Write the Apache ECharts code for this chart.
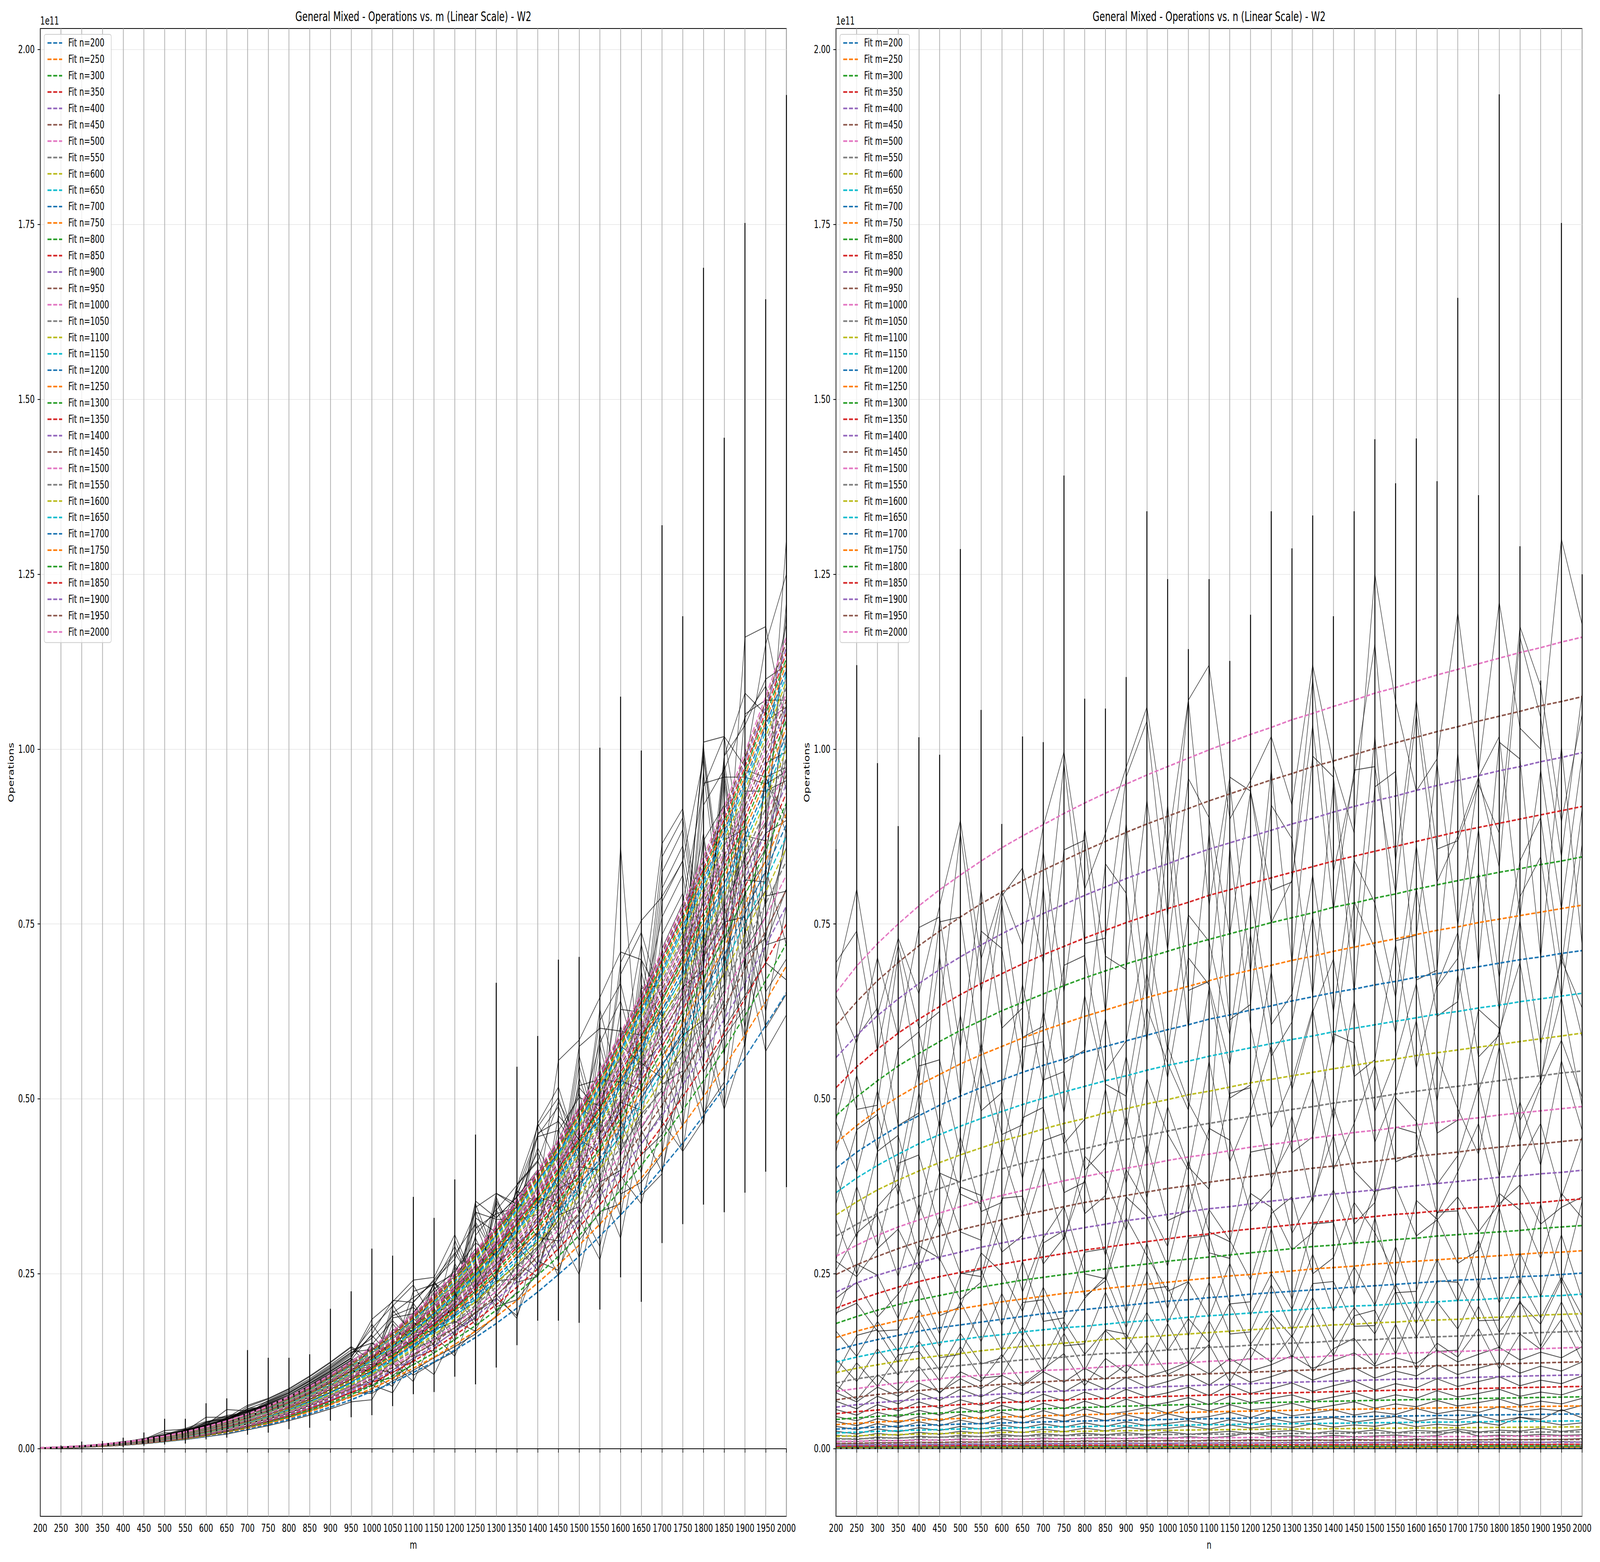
<!DOCTYPE html>
<html>
<head>
<meta charset="utf-8">
<title>General Mixed - Operations W2</title>
<script src="https://cdn.jsdelivr.net/npm/echarts@6/dist/echarts.min.js"></script>
<style>
  html, body { margin: 0; padding: 0; background: #fff; overflow: hidden; }
  #chart { width: 6000px; height: 4000px; transform-origin: 0 0; }
</style>
</head>
<body>
<div id="chart"></div>
<script>
// grid sizes (x values of both panels)
const mValues = [200,250,300,350,400,450,500,550,600,650,700,750,800,850,900,950,1000,1050,1100,1150,1200,1250,1300,1350,1400,1450,1500,1550,1600,1650,1700,1750,1800,1850,1900,1950,2000];
const nValues = [200,250,300,350,400,450,500,550,600,650,700,750,800,850,900,950,1000,1050,1100,1150,1200,1250,1300,1350,1400,1450,1500,1550,1600,1650,1700,1750,1800,1850,1900,1950,2000];
// y ticks, unit 1e9 (labels shown as x1e11)
const yTickValues = [0,25,50,75,100,125,150,175,200];

// fitted operations, rows = m, columns = n, unit 1e9
const fitOps = [
  [0.07,0.07,0.07,0.08,0.08,0.08,0.08,0.08,0.09,0.09,0.09,0.09,0.09,0.09,0.1,0.1,0.1,0.1,0.1,0.1,0.1,0.1,0.1,0.11,0.11,0.11,0.11,0.11,0.11,0.11,0.11,0.11,0.11,0.11,0.11,0.12,0.12],
  [0.13,0.13,0.14,0.15,0.15,0.16,0.16,0.16,0.17,0.17,0.17,0.18,0.18,0.18,0.19,0.19,0.19,0.19,0.2,0.2,0.2,0.2,0.2,0.21,0.21,0.21,0.21,0.21,0.21,0.22,0.22,0.22,0.22,0.22,0.22,0.23,0.23],
  [0.22,0.23,0.24,0.25,0.26,0.27,0.28,0.28,0.29,0.3,0.3,0.31,0.31,0.32,0.32,0.33,0.33,0.33,0.34,0.34,0.35,0.35,0.35,0.36,0.36,0.36,0.36,0.37,0.37,0.37,0.38,0.38,0.38,0.38,0.39,0.39,0.39],
  [0.35,0.37,0.39,0.4,0.42,0.43,0.44,0.45,0.46,0.47,0.48,0.49,0.49,0.5,0.51,0.52,0.52,0.53,0.54,0.54,0.55,0.55,0.56,0.56,0.57,0.57,0.58,0.58,0.59,0.59,0.6,0.6,0.61,0.61,0.61,0.62,0.62],
  [0.52,0.55,0.58,0.6,0.62,0.64,0.66,0.67,0.69,0.7,0.71,0.73,0.74,0.75,0.76,0.77,0.78,0.79,0.8,0.81,0.82,0.83,0.83,0.84,0.85,0.86,0.86,0.87,0.88,0.88,0.89,0.9,0.9,0.91,0.92,0.92,0.93],
  [0.74,0.79,0.82,0.85,0.88,0.91,0.93,0.96,0.98,1,1.02,1.03,1.05,1.07,1.08,1.1,1.11,1.12,1.14,1.15,1.16,1.17,1.19,1.2,1.21,1.22,1.23,1.24,1.25,1.26,1.27,1.28,1.29,1.3,1.3,1.31,1.32],
  [1.02,1.08,1.13,1.17,1.21,1.25,1.28,1.31,1.34,1.37,1.39,1.42,1.44,1.46,1.48,1.5,1.52,1.54,1.56,1.58,1.6,1.61,1.63,1.64,1.66,1.67,1.69,1.7,1.71,1.73,1.74,1.75,1.77,1.78,1.79,1.8,1.81],
  [1.36,1.43,1.5,1.56,1.61,1.66,1.71,1.75,1.79,1.82,1.86,1.89,1.92,1.95,1.98,2,2.03,2.05,2.08,2.1,2.12,2.15,2.17,2.19,2.21,2.23,2.25,2.26,2.28,2.3,2.32,2.33,2.35,2.37,2.38,2.4,2.41],
  [1.76,1.86,1.95,2.03,2.09,2.16,2.22,2.27,2.32,2.37,2.41,2.45,2.49,2.53,2.57,2.6,2.63,2.67,2.7,2.73,2.76,2.79,2.81,2.84,2.87,2.89,2.92,2.94,2.96,2.99,3.01,3.03,3.05,3.07,3.09,3.11,3.13],
  [2.24,2.37,2.48,2.58,2.66,2.74,2.82,2.88,2.95,3.01,3.06,3.12,3.17,3.22,3.26,3.31,3.35,3.39,3.43,3.47,3.5,3.54,3.58,3.61,3.64,3.67,3.71,3.74,3.77,3.8,3.82,3.85,3.88,3.9,3.93,3.96,3.98],
  [2.8,2.96,3.1,3.22,3.33,3.43,3.52,3.6,3.68,3.76,3.83,3.89,3.96,4.02,4.07,4.13,4.18,4.23,4.28,4.33,4.38,4.42,4.47,4.51,4.55,4.59,4.63,4.67,4.7,4.74,4.78,4.81,4.84,4.88,4.91,4.94,4.97],
  [3.44,3.64,3.81,3.96,4.09,4.21,4.33,4.43,4.53,4.62,4.71,4.79,4.87,4.94,5.01,5.08,5.14,5.21,5.27,5.33,5.38,5.44,5.49,5.55,5.6,5.65,5.69,5.74,5.79,5.83,5.87,5.92,5.96,6,6.04,6.08,6.12],
  [4.18,4.41,4.62,4.8,4.96,5.11,5.25,5.38,5.49,5.61,5.71,5.81,5.9,5.99,6.08,6.16,6.24,6.32,6.39,6.47,6.53,6.6,6.67,6.73,6.79,6.85,6.91,6.97,7.02,7.08,7.13,7.18,7.23,7.28,7.33,7.38,7.42],
  [5.01,5.3,5.54,5.76,5.96,6.13,6.3,6.45,6.59,6.72,6.85,6.97,7.08,7.19,7.29,7.39,7.49,7.58,7.67,7.75,7.84,7.92,8,8.07,8.15,8.22,8.29,8.36,8.42,8.49,8.55,8.61,8.67,8.73,8.79,8.85,8.9],
  [5.94,6.29,6.58,6.84,7.07,7.28,7.47,7.66,7.82,7.98,8.13,8.27,8.41,8.54,8.66,8.78,8.89,9,9.1,9.21,9.3,9.4,9.49,9.58,9.67,9.75,9.84,9.92,10,10.08,10.15,10.22,10.3,10.37,10.44,10.5,10.57],
  [6.99,7.39,7.74,8.04,8.31,8.56,8.79,9,9.2,9.39,9.56,9.73,9.89,10.04,10.18,10.32,10.45,10.58,10.71,10.83,10.94,11.05,11.16,11.27,11.37,11.47,11.57,11.67,11.76,11.85,11.94,12.02,12.11,12.19,12.27,12.35,12.43],
  [8.2,8.6,9,9.4,9.7,10,10.3,10.5,10.7,10.9,11.2,11.3,11.5,11.7,11.9,12,12.2,12.3,12.5,12.6,12.8,12.9,13,13.1,13.3,13.4,13.5,13.6,13.7,13.8,13.9,14,14.1,14.2,14.3,14.4,14.5],
  [9.4,10,10.4,10.9,11.2,11.6,11.9,12.2,12.4,12.7,12.9,13.1,13.4,13.6,13.7,13.9,14.1,14.3,14.5,14.6,14.8,14.9,15.1,15.2,15.4,15.5,15.6,15.8,15.9,16,16.1,16.2,16.4,16.5,16.6,16.7,16.8],
  [10.9,11.5,12,12.5,12.9,13.3,13.6,14,14.3,14.6,14.8,15.1,15.3,15.6,15.8,16,16.2,16.4,16.6,16.8,17,17.2,17.3,17.5,17.7,17.8,18,18.1,18.3,18.4,18.5,18.7,18.8,18.9,19.1,19.2,19.3],
  [12.4,13.1,13.7,14.3,14.7,15.2,15.6,16,16.3,16.7,17,17.3,17.5,17.8,18.1,18.3,18.5,18.8,19,19.2,19.4,19.6,19.8,20,20.2,20.4,20.5,20.7,20.9,21,21.2,21.3,21.5,21.6,21.8,21.9,22.1],
  [14.1,14.9,15.6,16.2,16.8,17.3,17.7,18.1,18.5,18.9,19.3,19.6,19.9,20.2,20.5,20.8,21.1,21.3,21.6,21.8,22.1,22.3,22.5,22.7,22.9,23.1,23.3,23.5,23.7,23.9,24.1,24.2,24.4,24.6,24.7,24.9,25.1],
  [15.9,16.8,17.6,18.3,18.9,19.5,20,20.5,21,21.4,21.8,22.2,22.5,22.9,23.2,23.5,23.8,24.1,24.4,24.7,24.9,25.2,25.4,25.7,25.9,26.1,26.4,26.6,26.8,27,27.2,27.4,27.6,27.8,28,28.1,28.3],
  [17.9,18.9,19.8,20.6,21.3,21.9,22.5,23.1,23.6,24.1,24.5,24.9,25.3,25.7,26.1,26.4,26.8,27.1,27.4,27.7,28,28.3,28.6,28.9,29.1,29.4,29.6,29.9,30.1,30.4,30.6,30.8,31,31.2,31.5,31.7,31.9],
  [20.1,21.2,22.2,23.1,23.9,24.6,25.2,25.8,26.4,26.9,27.4,27.9,28.4,28.8,29.2,29.6,30,30.4,30.7,31.1,31.4,31.7,32,32.3,32.6,32.9,33.2,33.5,33.7,34,34.3,34.5,34.7,35,35.2,35.5,35.7],
  [22.4,23.7,24.8,25.7,26.6,27.4,28.1,28.8,29.4,30,30.6,31.1,31.6,32.1,32.6,33,33.5,33.9,34.3,34.6,35,35.4,35.7,36.1,36.4,36.7,37,37.3,37.6,37.9,38.2,38.5,38.8,39,39.3,39.5,39.8],
  [24.9,26.3,27.5,28.6,29.6,30.4,31.3,32,32.7,33.4,34,34.6,35.2,35.7,36.2,36.7,37.2,37.6,38.1,38.5,38.9,39.3,39.7,40.1,40.4,40.8,41.1,41.5,41.8,42.1,42.4,42.8,43.1,43.4,43.6,43.9,44.2],
  [27.5,29.1,30.5,31.7,32.7,33.7,34.6,35.4,36.2,36.9,37.6,38.3,38.9,39.5,40.1,40.6,41.2,41.7,42.1,42.6,43.1,43.5,43.9,44.4,44.8,45.2,45.5,45.9,46.3,46.6,47,47.3,47.7,48,48.3,48.6,48.9],
  [30.4,32.1,33.6,34.9,36.1,37.2,38.2,39.1,40,40.8,41.5,42.3,42.9,43.6,44.2,44.8,45.4,46,46.5,47,47.5,48,48.5,48.9,49.4,49.8,50.2,50.7,51.1,51.5,51.8,52.2,52.6,53,53.3,53.7,54],
  [33.4,35.3,37,38.4,39.7,40.9,42,43,44,44.8,45.7,46.5,47.2,48,48.6,49.3,49.9,50.6,51.1,51.7,52.3,52.8,53.3,53.8,54.3,54.8,55.3,55.7,56.2,56.6,57,57.4,57.8,58.2,58.6,59,59.4],
  [36.6,38.7,40.5,42.1,43.6,44.9,46.1,47.2,48.2,49.2,50.1,51,51.8,52.6,53.3,54.1,54.8,55.4,56.1,56.7,57.3,57.9,58.5,59,59.6,60.1,60.6,61.1,61.6,62.1,62.5,63,63.4,63.9,64.3,64.7,65.1],
  [40.1,42.4,44.3,46.1,47.6,49.1,50.4,51.6,52.7,53.8,54.8,55.7,56.7,57.5,58.3,59.1,59.9,60.6,61.4,62,62.7,63.3,64,64.6,65.2,65.7,66.3,66.8,67.4,67.9,68.4,68.9,69.4,69.9,70.3,70.8,71.2],
  [43.7,46.2,48.4,50.3,52,53.5,55,56.3,57.5,58.7,59.8,60.8,61.8,62.7,63.6,64.5,65.3,66.1,66.9,67.7,68.4,69.1,69.8,70.4,71.1,71.7,72.3,72.9,73.5,74.1,74.6,75.2,75.7,76.2,76.7,77.2,77.7],
  [47.6,50.3,52.6,54.7,56.5,58.2,59.8,61.2,62.6,63.8,65,66.2,67.3,68.3,69.3,70.2,71.1,72,72.8,73.6,74.4,75.2,75.9,76.6,77.4,78,78.7,79.3,80,80.6,81.2,81.8,82.4,82.9,83.5,84,84.6],
  [51.6,54.6,57.1,59.4,61.4,63.2,64.9,66.5,67.9,69.3,70.6,71.8,73,74.1,75.2,76.2,77.2,78.1,79.1,79.9,80.8,81.6,82.4,83.2,84,84.7,85.4,86.1,86.8,87.5,88.2,88.8,89.4,90,90.6,91.2,91.8],
  [55.9,59.1,61.9,64.3,66.5,68.5,70.3,72,73.6,75.1,76.5,77.8,79.1,80.3,81.5,82.6,83.6,84.7,85.7,86.6,87.5,88.4,89.3,90.1,91,91.8,92.6,93.3,94.1,94.8,95.5,96.2,96.9,97.5,98.2,98.8,99.5],
  [60.5,63.9,66.9,69.5,71.9,74,76,77.9,79.6,81.2,82.7,84.1,85.5,86.8,88.1,89.3,90.4,91.5,92.6,93.6,94.6,95.6,96.5,97.5,98.3,99.2,100.1,100.9,101.7,102.5,103.2,104,104.7,105.4,106.2,106.8,107.5],
  [65.2,69,72.2,75,77.6,79.9,82,84,85.9,87.6,89.2,90.8,92.3,93.7,95,96.3,97.5,98.7,99.9,101,102.1,103.1,104.2,105.1,106.1,107,108,108.8,109.7,110.6,111.4,112.2,113,113.8,114.5,115.3,116]
];

// measured operations, rows = m, columns = n, unit 1e9
const rawOps = [
  [0.07,0.08,0.07,0.09,0.08,0.09,0.08,0.1,0.09,0.1,0.08,0.1,0.1,0.09,0.11,0.1,0.1,0.12,0.1,0.11,0.09,0.12,0.11,0.1,0.12,0.1,0.11,0.13,0.1,0.12,0.11,0.1,0.13,0.12,0.1,0.13,0.12],
  [0.14,0.12,0.16,0.14,0.17,0.15,0.18,0.15,0.19,0.16,0.2,0.17,0.16,0.2,0.18,0.21,0.17,0.2,0.22,0.18,0.21,0.2,0.23,0.19,0.22,0.24,0.2,0.22,0.19,0.25,0.21,0.23,0.26,0.2,0.24,0.22,0.25],
  [0.24,0.21,0.27,0.23,0.29,0.25,0.31,0.26,0.27,0.33,0.28,0.34,0.29,0.3,0.36,0.31,0.29,0.37,0.32,0.35,0.38,0.33,0.36,0.31,0.4,0.34,0.38,0.35,0.42,0.36,0.39,0.34,0.43,0.37,0.41,0.36,0.42],
  [0.38,0.34,0.43,0.37,0.45,0.41,0.48,0.42,0.5,0.44,0.53,0.46,0.51,0.49,0.56,0.47,0.58,0.5,0.55,0.6,0.52,0.57,0.62,0.53,0.6,0.55,0.64,0.56,0.61,0.66,0.58,0.63,0.57,0.67,0.6,0.65,0.64],
  [0.58,0.5,0.63,0.56,0.68,0.6,0.72,0.64,0.75,0.67,0.78,0.7,0.8,0.73,0.83,0.76,0.74,0.86,0.78,0.9,0.8,0.85,0.92,0.81,0.95,0.84,0.9,0.98,0.86,0.94,0.88,1,0.92,0.96,0.89,1.02,0.95],
  [0.8,0.72,0.9,0.85,0.96,0.86,1.02,0.93,1.08,0.97,1.12,1,1.15,1.05,1.18,1.1,1.22,1.06,1.25,1.14,1.3,1.17,1.24,1.33,1.19,1.36,1.26,1.21,1.4,1.28,1.35,1.24,1.44,1.3,1.38,1.34,1.45],
  [1.1,1,1.25,1.12,1.35,1.2,1.42,1.26,1.5,1.33,1.56,1.38,1.52,1.6,1.43,1.68,1.5,1.72,1.55,1.78,2.3,1.7,1.85,1.66,1.9,1.72,1.82,1.96,1.75,1.88,2.6,1.8,1.95,1.86,2.05,1.9,2],
  [1.5,1.3,1.68,1.45,1.8,1.6,1.95,1.7,2.05,1.78,2.15,1.9,2.22,2,2.3,2.05,2.4,2.1,2.25,2.5,2.15,2.42,2.6,2.2,2.55,2.35,2.7,2.3,2.62,2.45,2.8,2.4,2.66,2.52,2.9,2.48,2.75],
  [1.95,1.7,2.2,1.9,2.35,2.05,2.5,2.2,2.68,2.3,2.8,2.45,2.95,2.55,3.1,2.7,2.9,3.25,2.8,3.4,2.95,3.3,3.05,3.55,3.1,3.4,3.2,3.7,3.15,3.5,3.3,3.8,3.35,4.5,3.9,3.4,3.7],
  [2.5,2.1,2.85,2.4,3,2.6,3.2,2.8,3.4,2.95,3.55,3.1,3.7,3.2,3.85,3.3,3.6,4,3.45,4.15,3.6,4.3,3.75,4.05,4.45,3.8,4.2,4.6,3.9,4.35,4.1,4.75,4,4.5,4.2,5.6,4.4],
  [3.2,2.7,3.6,3,3.85,3.25,4.1,3.5,4.3,3.65,4.5,3.9,4.7,4,4.85,4.15,5,4.3,4.6,5.2,4.45,5.4,4.7,5.1,5.55,4.8,5.3,4.9,5.75,5,5.5,5.2,6,5.3,5.7,5.4,6.2],
  [3.9,3.3,4.3,3.7,4.6,3.95,4.9,4.2,5.2,4.4,5.45,4.6,5.7,4.9,5.3,5.9,5.1,6.1,5.4,6.3,5.55,5.9,6.5,5.7,6.2,6.7,5.8,6.4,6,6.9,6.1,6.6,7.1,6.2,6.8,6.4,7.2],
  [4.6,4,5.2,4.5,5.5,4.8,5.9,5.1,6.2,5.4,6.5,5.7,6.8,5.9,7.1,6.1,6.6,7.3,6.3,7.5,6.6,7.2,7.7,6.8,7.4,8,7,7.7,7.2,8.3,7.4,7.9,8.5,7.5,8.1,7.7,8.6],
  [5.6,4.8,6.3,5.4,6.7,5.8,7,6.2,7.4,6.5,7.8,6.8,8.1,7.1,8.5,7.4,8,8.8,7.6,9.1,7.9,8.6,9.4,8.2,9,9.7,8.4,9.3,8.7,10,8.9,9.6,10.3,9,9.8,9.3,10.4],
  [6.8,5.7,7.5,6.4,8,6.9,8.5,7.4,9,7.7,9.4,8.1,9.8,8.5,10.2,8.8,9.6,10.6,9.1,11,9.5,10.3,11.3,9.8,10.8,11.6,10.1,11.1,10.4,12,10.6,11.5,12.3,10.8,11.8,11.1,12.4],
  [8,6.7,8.8,7.5,9.4,8.1,10,8.6,10.5,9,11,9.5,11.5,9.9,12,10.3,11.2,12.4,10.7,12.9,11.1,12,13.3,11.5,12.6,13.7,11.8,13,12.2,14.1,12.4,13.5,14.5,12.7,13.8,13,14.6],
  [9.1,7,10.6,8.3,11.8,7.9,11,9.6,13.5,9.2,11.4,13.6,9,12.9,10.8,15.2,10.6,12,14.9,9.6,14.5,12.4,16.2,11,14.3,15.8,12,17.8,11.3,15.1,13.1,17.2,11.4,16.4,14.2,18.5,12.6],
  [8,12.3,8.9,13.4,13.9,9.7,14.6,10.1,10.4,15.8,10.9,16.5,11.2,17,16.4,11.8,17.9,12.2,18.3,12.5,12.9,18.7,13,19.4,13.3,19,19.8,13.5,20.6,13.9,14.1,20.4,14.3,21.2,14.6,21,15],
  [12.8,9.6,14.3,10.5,15.4,11.2,16.5,12.1,13,17.4,12.6,18.2,13.5,16.9,14.1,19.5,14,18.6,15.2,20.8,14.9,19.3,16,21.6,15.5,20.2,16.4,22.5,15.9,21,17.1,23.4,16.6,20.9,17.8,24.1,17],
  [10.6,16.2,17,12.3,18.4,13,13.5,20.1,14.1,20.9,21.3,14.7,15,22.4,15.6,22.8,23.2,16.1,23.8,16.4,16.7,23.4,17,23.6,23.9,17.5,17.6,23.5,17.9,24,23.8,18.3,18.4,24.2,18.7,24.5,19],
  [16.8,13.2,18.2,13.9,19.9,14.6,21,15.3,22.2,16.1,23.1,16.8,21.5,24.6,17.3,25.4,18,23.9,18.8,26.5,19.1,25,19.9,27.8,19.6,26,20.5,28.9,20.2,27.1,21,29.8,20.8,28,21.7,30.6,21.4],
  [19.4,20.8,16.8,17,23.4,16.4,25,25.6,17.6,26.8,18.2,18.7,28.1,28.6,19.5,29.4,20,30.1,30.5,20.7,21,31.5,21.3,32.1,32.4,21.9,33,22.3,22.5,33.8,34,23,34.5,23.3,35,23.6,35.4],
  [21.5,23.8,18.8,22.1,26.5,19,20.3,28,25.2,19.6,29.4,31.2,21.8,24,33,27.6,22.5,23.9,34.2,29.8,24.1,33.6,36,25,27.3,35.2,30.9,24.7,35.5,32.8,26.5,28.4,36.5,34.1,27.2,36.5,33],
  [19,26.4,24.8,18.6,29,27.2,21.3,23.8,32.5,22.4,30.1,34.6,25,24.3,36,33.2,26.1,37.8,28,27.2,36.5,34.5,28.4,30.9,37,29.1,36.8,37.5,30.4,32.7,36,31,35,37.7,32.1,34.5,36],
  [26.8,24.6,28.6,31.4,25.5,33.2,25.1,24.6,35.8,36.1,26.4,30.2,38.5,27.6,39.9,34.8,28.9,41.2,31,29.6,42.4,43,30.8,36,44.8,32.1,35.2,46,45.1,33.5,39.6,46.5,34.4,41,46.5,35.9,44.6],
  [25.5,30.8,33.4,24.6,35,26.8,37.4,36.2,28.1,30.5,40.2,29.7,41.8,38.6,31.2,43.5,32.6,34,45.8,44.1,33.9,37.2,47.6,35.1,48.9,39.7,36.6,50.2,46.8,37.8,41.9,51.7,38.9,49.6,40.5,55.5,45.5],
  [32.8,24.9,34.6,37.9,27.4,39.5,31,29.8,42.6,33.4,44,45.1,33.6,36.2,47.5,35.8,48.9,40.3,37.1,50.8,51.6,38.6,44.2,53,39.9,46.5,54.8,41,42.3,56.2,48.6,42.1,57.5,44,51.9,58.4,50.2],
  [27,37.5,28.9,40.8,42,31.5,44.6,33.9,35.2,47.3,48.8,36.6,38.1,51.4,37.9,52.9,45,39.8,55.4,41,48.2,57.6,42.3,44.6,59.3,58,43.8,51,61.2,45.1,47,62.8,60.1,46.9,52.8,64.5,49],
  [39,30.1,42.5,44.8,33.2,47,36.4,35,50.2,38.6,52.7,53.9,39.8,43,56.1,41.9,57.6,49.5,44,86,60.4,45.8,52.6,62.8,47,64,48.2,55.9,66.5,49.6,67.8,51.1,59.7,69.5,52.4,71,58.8],
  [35,45.6,47.8,36.2,50.9,39.4,38.1,54.6,42,57.4,58.2,43.6,47.1,61.5,45.8,63,55.1,48.4,65.8,50.1,52,68.2,51.3,62.4,70,53.2,55.6,72.1,54.4,66.3,73.8,56,59.1,75.5,57.8,69.9,63],
  [46.8,39.5,51.2,39.3,54.7,55.6,42.1,58,44.9,46.3,62.5,48,64.8,52.1,50.4,68,53,70.2,66.3,54.8,73.5,56.1,61,76,57.6,78.2,71.5,59.4,80.1,61.8,63.9,82.4,62.7,78.9,84.6,64.4,86.5],
  [42.5,53.4,42.6,57.1,59.6,45.9,62,48.3,50.9,66.4,52.2,69.1,70.5,54,58.3,74,56.9,76.3,72.5,59.1,79.4,60.6,65,82,62.4,84.1,78,64.5,86.2,66,70.1,88.5,67.3,84,90.2,69,91.5],
  [47,58.8,63,46.2,48,70.4,50.3,74,71.5,53.8,80.2,55.1,57,83.6,79.4,58.2,86.9,60.1,88,61.3,63.5,92,87.2,64.8,95.1,65.2,94.6,96.8,67,68.4,99.5,69.3,101,98.6,70.2,100.3,72],
  [60.2,48.5,49.1,70.6,52.4,75.3,76,56.2,78,58.8,60.4,85.6,87,62.3,89.4,64.1,92,65.5,66.8,95.2,68,97.1,69.4,99,96,71.5,101.8,72.6,73.4,98,74.8,96,101.8,76,97,77.1,99],
  [64.8,58,70.2,59,74.5,76,57.3,79.9,60.1,63,85.4,65.2,88.6,70.4,68.5,92.7,71.3,95.8,90.2,73.4,94,75.2,81.3,103.4,77,97,97.5,79.4,105,81,87.6,96,83.1,116,104.5,84.6,108],
  [69.5,74,56.8,72,60.1,62.5,88,65.3,79,83,69.4,98,72.2,73,96,104,76.1,107,77.6,96,94,79.8,81,110,82.5,96,115,84,107,85.7,86.9,95,88,117.5,109,89.6,105],
  [67,80,62,73,65,77.6,89.8,70,79.7,72,89,99.6,80,87.9,97.4,106,86,107,112,90,95.5,101.8,92,112,97.7,88,125,106.7,94,98.6,119.5,96.8,121,103,100,130,117.8]
];

// error bar extent at each x, unit 1e9
const errLowByM = [0,0,0,0.1,0.19,0.41,0.6,0.74,1.34,1.58,2,2.3,2.8,3,4,4.5,4.8,6.1,7.8,8.1,10.3,9.2,11.6,14.8,18.3,18.3,18,19.9,24.5,21,29.4,32.1,34.9,33.8,36.6,39.6,37.4];
const errHighByM = [0.2,0.47,1.02,1.1,1.58,2.32,4.28,4.28,6.5,7.2,14.1,13,13,13.5,20,22.5,28.6,27.6,36,33,38.5,44.9,66.6,54.6,59,69.9,70.3,100.2,107.5,99.8,132,119,168.8,144.5,175.2,164.3,193.5];
const errLowByN = [0,0,0,0,0,0,0,0,0,0,0,0,0,0,0,0,0,0,0,0,0,0,0,0,0,0,0,0,0,0,0,0,0,0,0,0,0];
const errHighByN = [85.7,112,98,89,101.7,99.2,128.6,105.6,89.3,101.8,101,139.1,107.2,105.8,110.3,134,124.3,114.3,124.3,112.6,119.2,134,128.7,133.4,119,134,144.3,138,144.4,138.3,164.5,136.3,193.6,129,109.8,175.2,125];

const tab10 = ['#1f77b4','#ff7f0e','#2ca02c','#d62728','#9467bd','#8c564b','#e377c2','#7f7f7f','#bcbd22','#17becf'];

// sanity check on the tables
[['fitOps', fitOps], ['rawOps', rawOps]].forEach(([name, tbl]) => {
  if (tbl.length !== mValues.length) throw new Error(name + ' rows ' + tbl.length);
  tbl.forEach((row, i) => { if (row.length !== nValues.length) throw new Error(name + ' row ' + i + ' len ' + row.length); });
});

// figure is laid out at 6000x4000 and scaled to whatever window we get
const FIG_W = 6000, FIG_H = 4000;
const chartEl = document.getElementById('chart');
const sx = (window.innerWidth || FIG_W) / FIG_W;
const sy = (window.innerHeight || FIG_H) / FIG_H;
chartEl.style.transform = 'scale(' + sx + ',' + sy + ')';

const FONT = 'DejaVu Sans';
const FS = 27.8;
const GRID_TOP = 73, GRID_H = 3810, GRID_W = 2798;
const LEFT_X = 151, RIGHT_X = 3135;

function errorBars(params, api) {
  const p1 = api.coord([api.value(0), api.value(1)]);
  const p2 = api.coord([api.value(0), api.value(2)]);
  return {
    type: 'line',
    shape: { x1: p1[0], y1: p1[1], x2: p2[0], y2: p2[1] },
    style: { stroke: '#000', lineWidth: 3.5 }
  };
}

const series = [];
// left: operations vs m, one line per n
nValues.forEach((n, ni) => {
  series.push({
    type: 'line', xAxisIndex: 0, yAxisIndex: 0, name: 'data n=' + n,
    data: mValues.map((m, mi) => [m, rawOps[mi][ni]]),
    symbol: 'none', silent: true, z: 2,
    lineStyle: { color: 'rgba(0,0,0,0.7)', width: 2.2 }
  });
});
nValues.forEach((n, ni) => {
  const c = tab10[ni % 10];
  series.push({
    type: 'line', xAxisIndex: 0, yAxisIndex: 0, name: 'Fit n=' + n,
    data: mValues.map((m, mi) => [m, fitOps[mi][ni]]),
    symbol: 'none', silent: true, z: 3,
    itemStyle: { color: c },
    lineStyle: { color: c, width: 4, type: [15, 6.5] }
  });
});
series.push({
  type: 'custom', xAxisIndex: 0, yAxisIndex: 0, name: 'err m',
  renderItem: errorBars, silent: true, z: 4,
  encode: { x: 0, y: [1, 2] },
  data: mValues.map((m, mi) => [m, errLowByM[mi], errHighByM[mi]])
});

// right: operations vs n, one line per m
mValues.forEach((m, mi) => {
  series.push({
    type: 'line', xAxisIndex: 1, yAxisIndex: 1, name: 'data m=' + m,
    data: nValues.map((n, ni) => [n, rawOps[mi][ni]]),
    symbol: 'none', silent: true, z: 2,
    lineStyle: { color: 'rgba(0,0,0,0.7)', width: 2.2 }
  });
});
mValues.forEach((m, mi) => {
  const c = tab10[mi % 10];
  series.push({
    type: 'line', xAxisIndex: 1, yAxisIndex: 1, name: 'Fit m=' + m,
    data: nValues.map((n, ni) => [n, fitOps[mi][ni]]),
    symbol: 'none', silent: true, z: 3,
    itemStyle: { color: c },
    lineStyle: { color: c, width: 4, type: [15, 6.5] }
  });
});
series.push({
  type: 'custom', xAxisIndex: 1, yAxisIndex: 1, name: 'err n',
  renderItem: errorBars, silent: true, z: 4,
  encode: { x: 0, y: [1, 2] },
  data: nValues.map((n, ni) => [n, errLowByN[ni], errHighByN[ni]])
});

function xAxisFor(idx, label) {
  return {
    gridIndex: idx, type: 'value', min: 200, max: 2000, interval: 50,
    name: label, nameLocation: 'middle', nameGap: 60,
    nameTextStyle: { fontFamily: FONT, fontSize: FS, color: '#000' },
    axisLine: { lineStyle: { color: '#000', width: 2 } },
    axisTick: { length: 10, lineStyle: { color: '#000', width: 2 } },
    axisLabel: { fontFamily: FONT, fontSize: FS, color: '#000', margin: 17, showMinLabel: true, showMaxLabel: true, formatter: v => String(v) },
    splitLine: { show: true, lineStyle: { color: '#b0b0b0', width: 2.8 } }
  };
}
function yAxisFor(idx) {
  return {
    gridIndex: idx, type: 'value', min: -9.66, max: 203.0,
    name: 'Operations', nameLocation: 'middle', nameGap: 95, nameRotate: 90,
    nameTextStyle: { fontFamily: FONT, fontSize: FS, color: '#000' },
    axisLine: { show: true, lineStyle: { color: '#000', width: 2 } },
    axisTick: { show: true, length: 10, customValues: yTickValues, lineStyle: { color: '#000', width: 2 } },
    axisLabel: {
      fontFamily: FONT, fontSize: FS, color: '#000', margin: 21,
      customValues: yTickValues,
      formatter: v => (v / 100).toFixed(2)
    },
    splitLine: { show: true, lineStyle: { color: '#ebebeb', width: 2 } }
  };
}
function legendFor(left, prefix, values) {
  return {
    orient: 'vertical', left: left, top: 88,
    data: values.map(v => prefix + v),
    selectedMode: false,
    itemWidth: 55, itemHeight: 14, itemGap: 13.9,
    itemStyle: { opacity: 0 },
    lineStyle: { width: 4.2, type: [15, 6.5] },
    padding: [8, 8, 13, 10],
    backgroundColor: 'rgba(255,255,255,0.8)',
    borderColor: '#cccccc', borderWidth: 2, borderRadius: 6,
    textStyle: { fontFamily: FONT, fontSize: FS, color: '#000', lineHeight: 28, padding: [0, 0, 0, 18] }
  };
}

const chart = echarts.init(chartEl, null, { renderer: 'svg', width: FIG_W, height: FIG_H });
chart.setOption({
  animation: false,
  backgroundColor: '#fff',
  grid: [
    { left: LEFT_X, top: GRID_TOP, width: GRID_W, height: GRID_H, show: true, borderColor: '#000', borderWidth: 2 },
    { left: RIGHT_X, top: GRID_TOP, width: GRID_W, height: GRID_H, show: true, borderColor: '#000', borderWidth: 2 }
  ],
  xAxis: [xAxisFor(0, 'm'), xAxisFor(1, 'n')],
  yAxis: [yAxisFor(0), yAxisFor(1)],
  legend: [legendFor(166, 'Fit n=', nValues), legendFor(3150, 'Fit m=', mValues)],
  graphic: [
    { type: 'text', x: LEFT_X + GRID_W / 2, y: 43, style: { text: 'General Mixed - Operations vs. m (Linear Scale) - W2', font: '33.3px "DejaVu Sans"', fill: '#000', align: 'center', verticalAlign: 'middle' } },
    { type: 'text', x: RIGHT_X + GRID_W / 2, y: 43, style: { text: 'General Mixed - Operations vs. n (Linear Scale) - W2', font: '33.3px "DejaVu Sans"', fill: '#000', align: 'center', verticalAlign: 'middle' } },
    { type: 'text', x: LEFT_X, y: 54, style: { text: '1e11', font: '27.8px "DejaVu Sans"', fill: '#000', align: 'left', verticalAlign: 'middle' } },
    { type: 'text', x: RIGHT_X, y: 54, style: { text: '1e11', font: '27.8px "DejaVu Sans"', fill: '#000', align: 'left', verticalAlign: 'middle' } }
  ],
  series: series
});
</script>
</body>
</html>
